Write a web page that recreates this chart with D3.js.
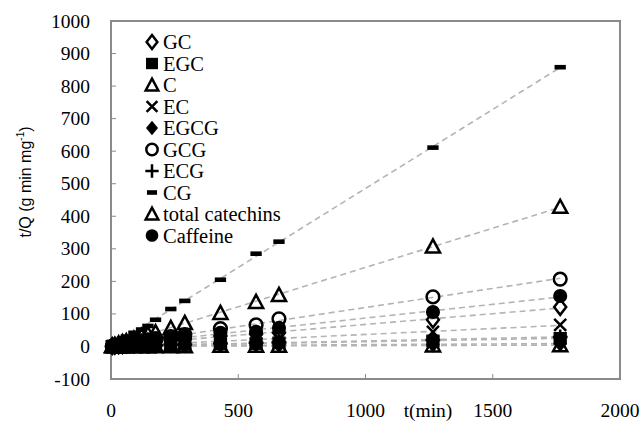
<!DOCTYPE html>
<html>
<head>
<meta charset="utf-8">
<script src="https://cdn.jsdelivr.net/npm/d3@7"></script>
<style>
  html, body { margin: 0; padding: 0; background: #fff; }
  svg { display: block; }
  .serif { font-family: "Liberation Serif", "Times New Roman", Times, "DejaVu Serif", serif; }
  .sans { font-family: "Liberation Sans", Arial, Helvetica, sans-serif; }
</style>
</head>
<body>
<svg id="chart" width="643" height="421"></svg>
<script>
// ---- data ----
const times     = [5, 15, 30, 45, 60, 90, 120, 145, 175, 235, 290, 430, 570, 660, 1265, 1765];
const GC        = [1, 2, 3, 4, 6, 8, 10, 12, 14, 18, 22, 32, 38, 42, 82, 121];
const EGC       = [0, 1, 1, 1, 2, 2, 3, 3, 4, 5, 6, 8, 9, 11, 17, 25];
const C         = [0, 0, 0, 0, 1, 1, 1, 1, 1, 1, 1, 2, 2, 2, 3, 4];
const EC        = [1, 1, 2, 2, 3, 4, 5, 6, 7, 9, 11, 16, 20, 25, 45, 66];
const EGCG      = [0, 0, 1, 1, 1, 1, 2, 2, 2, 3, 3, 4, 5, 5, 6, 8];
const GCG       = [1, 3, 5, 7, 9, 13, 17, 20, 24, 30, 36, 55, 66, 85, 152, 207];
const ECG       = [0, 1, 1, 1, 2, 2, 3, 3, 4, 5, 6, 9, 11, 13, 20, 29];
const CG        = [6, 10, 17, 24, 30, 42, 52, 63, 82, 115, 140, 205, 285, 322, 611, 858];
const totalCat  = [2, 5, 9, 13, 16, 24, 32, 38, 44, 57, 72, 103, 137, 158, 307, 429];
const Caffeine  = [1, 2, 4, 6, 8, 11, 14, 16, 19, 25, 30, 42, 45, 57, 106, 155];

const seriesNames = ["GC", "EGC", "C", "EC", "EGCG", "GCG", "ECG", "CG", "total catechins", "Caffeine"];
const seriesValues = [GC, EGC, C, EC, EGCG, GCG, ECG, CG, totalCat, Caffeine];
const seriesMarkers = ["diamondOpen", "squareFilled", "triangleOpen", "times", "diamondFilled", "circleOpen", "plus", "dash", "triangleOpen", "circleFilled"];

const xTicks = [0, 500, 1000, 1500, 2000];
const yTicks = [-100, 0, 100, 200, 300, 400, 500, 600, 700, 800, 900, 1000];

// ---- layout ----
const svg = d3.select("#chart");
const L = 111, R = 620, T = 21, B = 379;
const x = d3.scaleLinear().domain([0, 2000]).range([L, R]);
const y = d3.scaleLinear().domain([-100, 1000]).range([B, T]);

// custom symbol types (size = half-width squared)
const symTypes = {
  diamondOpen:  { draw(c, s) { const r = Math.sqrt(s); c.moveTo(0, -r*1.1); c.lineTo(r*0.85, 0); c.lineTo(0, r*1.1); c.lineTo(-r*0.85, 0); c.closePath(); } },
  diamondFilled:{ draw(c, s) { const r = Math.sqrt(s); c.moveTo(0, -r*1.15); c.lineTo(r*0.95, 0); c.lineTo(0, r*1.15); c.lineTo(-r*0.95, 0); c.closePath(); } },
  squareFilled: { draw(c, s) { const r = Math.sqrt(s)*0.9; c.rect(-r*1.05, -r, 2.1*r, 2*r); } },
  triangleOpen: { draw(c, s) { const r = Math.sqrt(s); c.moveTo(0, -r*1.0); c.lineTo(r*1.0, r*0.85); c.lineTo(-r*1.0, r*0.85); c.closePath(); } },
  times:        { draw(c, s) { const r = Math.sqrt(s)*0.85; c.moveTo(-r, -r); c.lineTo(r, r); c.moveTo(r, -r); c.lineTo(-r, r); } },
  plus:         { draw(c, s) { const r = Math.sqrt(s)*1.05; c.moveTo(-r, 0); c.lineTo(r, 0); c.moveTo(0, -r); c.lineTo(0, r); } },
  circleOpen:   { draw(c, s) { const r = Math.sqrt(s)*0.9; c.moveTo(r, 0); c.arc(0, 0, r, 0, 2*Math.PI); } },
  circleFilled: { draw(c, s) { const r = Math.sqrt(s)*1.0; c.moveTo(r, 0); c.arc(0, 0, r, 0, 2*Math.PI); } },
  dash:         { draw(c, s) { const r = Math.sqrt(s); c.rect(-r*0.8, -2.3, r*1.6, 4.6); } }
};
const filled = { squareFilled: true, diamondFilled: true, circleFilled: true, dash: true };

function markerAttrs(sel, kind, size) {
  sel.attr("d", d3.symbol().type(symTypes[kind]).size(size))
     .attr("fill", filled[kind] ? "#000" : "none")
     .attr("stroke", filled[kind] ? "none" : "#000")
     .attr("stroke-width", 2.5)
     .attr("stroke-linejoin", "miter");
}

// ---- frame ----
svg.append("rect").attr("x", L).attr("y", T).attr("width", R - L).attr("height", B - T)
  .attr("fill", "none").attr("stroke", "#8a8a8a").attr("stroke-width", 2);

// ticks (inward)
svg.append("g").selectAll("line").data(yTicks).join("line")
  .attr("x1", L).attr("x2", L + 5).attr("y1", d => y(d)).attr("y2", d => y(d))
  .attr("stroke", "#8a8a8a").attr("stroke-width", 1);
svg.append("g").selectAll("line").data(xTicks.slice(1, -1)).join("line")
  .attr("x1", d => x(d)).attr("x2", d => x(d)).attr("y1", B).attr("y2", B - 5)
  .attr("stroke", "#8a8a8a").attr("stroke-width", 1);

// tick labels
svg.append("g").selectAll("text").data(yTicks).join("text")
  .attr("class", "serif")
  .attr("x", 90).attr("y", d => y(d) + 6.5)
  .attr("text-anchor", "end")
  .attr("font-size", 19.5)
  .text(d => d);
svg.append("g").selectAll("text").data(xTicks).join("text")
  .attr("class", "serif")
  .attr("x", d => x(d)).attr("y", 417)
  .attr("text-anchor", "middle")
  .attr("font-size", 19.5)
  .text(d => d);

svg.append("text").attr("class", "serif").attr("x", 428).attr("y", 417).attr("text-anchor", "middle")
  .attr("font-size", 19.5)
  .text("t(min)");

// y title
const yt = svg.append("text")
  .attr("class", "sans")
  .attr("transform", "translate(31,182) rotate(-90)")
  .attr("text-anchor", "middle")
  .attr("font-size", 16);
yt.append("tspan").text("t/Q (g min mg");
yt.append("tspan").attr("font-size", 10).attr("dy", -7).text("-1");
yt.append("tspan").attr("dy", 7).text(")");

// ---- trend lines (least squares fit of each series) ----
const tl = svg.append("g");
seriesValues.forEach(vals => {
  const n = times.length;
  const mx = d3.mean(times), my = d3.mean(vals);
  let sxy = 0, sxx = 0;
  for (let i = 0; i < n; i++) { sxy += (times[i]-mx)*(vals[i]-my); sxx += (times[i]-mx)**2; }
  const b = sxy / sxx, a = my - b*mx;
  const t0 = 0, t1 = times[n-1];
  tl.append("line")
    .attr("x1", x(t0)).attr("y1", y(a + b*t0))
    .attr("x2", x(t1)).attr("y2", y(a + b*t1))
    .attr("stroke", "#b4b4b4").attr("stroke-width", 1.6).attr("stroke-dasharray", "6,4");
});

// ---- markers ----
const mg = svg.append("g");
seriesValues.forEach((vals, si) => {
  const kind = seriesMarkers[si];
  mg.append("g").selectAll("path").data(vals).join("path")
    .attr("transform", (d, i) => `translate(${x(times[i])},${y(d)})`)
    .call(markerAttrs, kind, 50);
});

// ---- legend ----
const lg = svg.append("g");
seriesNames.forEach((name, i) => {
  const yy = 42 + i * 21.5;
  lg.append("path").attr("transform", `translate(152,${yy})`).call(markerAttrs, seriesMarkers[i], 40);
  lg.append("text").attr("class", "serif").attr("x", 163).attr("y", yy + 7)
    .attr("font-size", 20.5)
    .text(name);
});
</script>
</body>
</html>
